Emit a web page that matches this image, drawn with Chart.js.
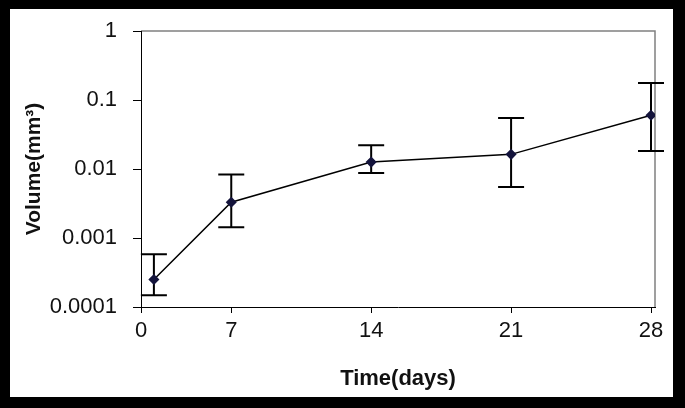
<!DOCTYPE html>
<html>
<head>
<meta charset="utf-8">
<script src="https://cdn.jsdelivr.net/npm/chart.js@4/dist/chart.umd.min.js"></script>
<style>
  html, body { margin: 0; padding: 0; background: #000; }
  #frame { position: absolute; left: 10px; top: 9px; width: 663px; height: 388px; background: #fff; }
</style>
</head>
<body>
<div id="frame"><canvas id="volumeChart"></canvas></div>
<script>
// data
const days = [1, 7, 14, 21, 28];
const volume = [0.00025, 0.0033, 0.0126, 0.0163, 0.06];
const errLow = [0.000148, 0.00143, 0.00875, 0.0055, 0.0182];
const errHigh = [0.00058, 0.0083, 0.022, 0.055, 0.176];
const xTicks = [0, 7, 14, 21, 28];
const yTicks = [0.0001, 0.001, 0.01, 0.1, 1];
const yTickLabels = ['0.0001', '0.001', '0.01', '0.1', '1'];

// linear scale with a shorter first segment (0-7), like the original axis
class SegmentScale extends Chart.LinearScale {
    getPixelForValue(value) {
        const br = this.options.breaks, fr = this.options.fractions;
        let i = 0;
        while (i < br.length - 2 && value > br[i + 1]) i++;
        const f = fr[i] + (value - br[i]) / (br[i + 1] - br[i]) * (fr[i + 1] - fr[i]);
        return this.getPixelForDecimal(f);
    }
    getValueForPixel(pixel) {
        const br = this.options.breaks, fr = this.options.fractions;
        const d = this.getDecimalForPixel(pixel);
        let i = 0;
        while (i < fr.length - 2 && d > fr[i + 1]) i++;
        return br[i] + (d - fr[i]) / (fr[i + 1] - fr[i]) * (br[i + 1] - br[i]);
    }
}
SegmentScale.id = 'segment';
SegmentScale.defaults = Chart.LinearScale.defaults;
Chart.register(SegmentScale);

// error bars, drawn under the line and markers
const errorBars = {
    id: 'errorBars',
    beforeDatasetsDraw(chart) {
        const ctx = chart.ctx;
        const xs = chart.scales.x, ys = chart.scales.y;
        ctx.save();
        ctx.strokeStyle = '#000';
        ctx.lineWidth = 2;
        days.forEach((d, i) => {
            const x = xs.getPixelForValue(d);
            const y1 = ys.getPixelForValue(errLow[i]);
            const y2 = ys.getPixelForValue(errHigh[i]);
            ctx.beginPath();
            ctx.moveTo(x, y1); ctx.lineTo(x, y2);
            ctx.moveTo(x - 13, y1); ctx.lineTo(x + 13, y1);
            ctx.moveTo(x - 13, y2); ctx.lineTo(x + 13, y2);
            ctx.stroke();
        });
        ctx.restore();
    }
};

// grey top and right border of the plot area
const plotBorder = {
    id: 'plotBorder',
    beforeDraw(chart) {
        const a = chart.chartArea, ctx = chart.ctx;
        ctx.save();
        ctx.strokeStyle = '#808080';
        ctx.lineWidth = 1.5;
        ctx.beginPath();
        ctx.moveTo(a.left, a.top);
        ctx.lineTo(a.right, a.top);
        ctx.lineTo(a.right, a.bottom);
        ctx.stroke();
        ctx.restore();
    }
};

window.onload = function () {
    const ctx = document.getElementById('volumeChart').getContext('2d');
    new Chart(ctx, {
        type: 'line',
        data: {
            datasets: [{
                label: 'Volume',
                data: days.map((d, i) => ({ x: d, y: volume[i] })),
                borderColor: '#000',
                borderWidth: 1.5,
                pointStyle: 'rectRot',
                pointRadius: 4.5,
                pointBackgroundColor: '#14143c',
                pointBorderColor: '#14143c',
                tension: 0
            }]
        },
        options: {
            responsive: true,
            maintainAspectRatio: false,
            animation: false,
            layout: { padding: { top: 22, right: 18, left: 0, bottom: 0 } },
            plugins: {
                legend: { display: false },
                tooltip: { enabled: false }
            },
            scales: {
                x: {
                    type: 'segment',
                    breaks: [0, 7, 28.2],
                    fractions: [0, 0.1756, 1],
                    min: 0,
                    max: 28.2,
                    afterBuildTicks: s => { s.ticks = xTicks.map(v => ({ value: v })); },
                    afterFit: s => { s.height = 90; s.paddingLeft = 0; s.paddingRight = 0; },
                    grid: { drawOnChartArea: false, tickLength: 6, color: '#000', lineWidth: 1 },
                    border: { color: '#000', width: 1 },
                    ticks: {
                        color: '#111', padding: 5, maxRotation: 0,
                        font: { family: 'Liberation Sans, Arial, sans-serif', size: 22 }
                    },
                    title: {
                        display: true, text: 'Time(days)', color: '#111',
                        padding: { top: 0, bottom: 5 },
                        font: { family: 'Liberation Sans, Arial, sans-serif', size: 22, weight: 'bold' }
                    }
                },
                y: {
                    type: 'logarithmic',
                    min: 0.0001,
                    max: 1,
                    afterBuildTicks: s => { s.ticks = yTicks.map(v => ({ value: v })); },
                    afterFit: s => { s.width = 131; s.paddingTop = 0; s.paddingBottom = 0; },
                    grid: { drawOnChartArea: false, tickLength: 8, color: '#000', lineWidth: 1 },
                    border: { color: '#000', width: 1 },
                    ticks: {
                        color: '#111', padding: 16,
                        font: { family: 'Liberation Sans, Arial, sans-serif', size: 22 },
                        callback: v => yTickLabels[yTicks.indexOf(v)] ?? ''
                    },
                    title: {
                        display: true, text: 'Volume(mm³)', color: '#111',
                        padding: { top: 12, bottom: 0 },
                        font: { family: 'Liberation Sans, Arial, sans-serif', size: 21, weight: 'bold' }
                    }
                }
            }
        },
        plugins: [errorBars, plotBorder]
    });
};
</script>
</body>
</html>
